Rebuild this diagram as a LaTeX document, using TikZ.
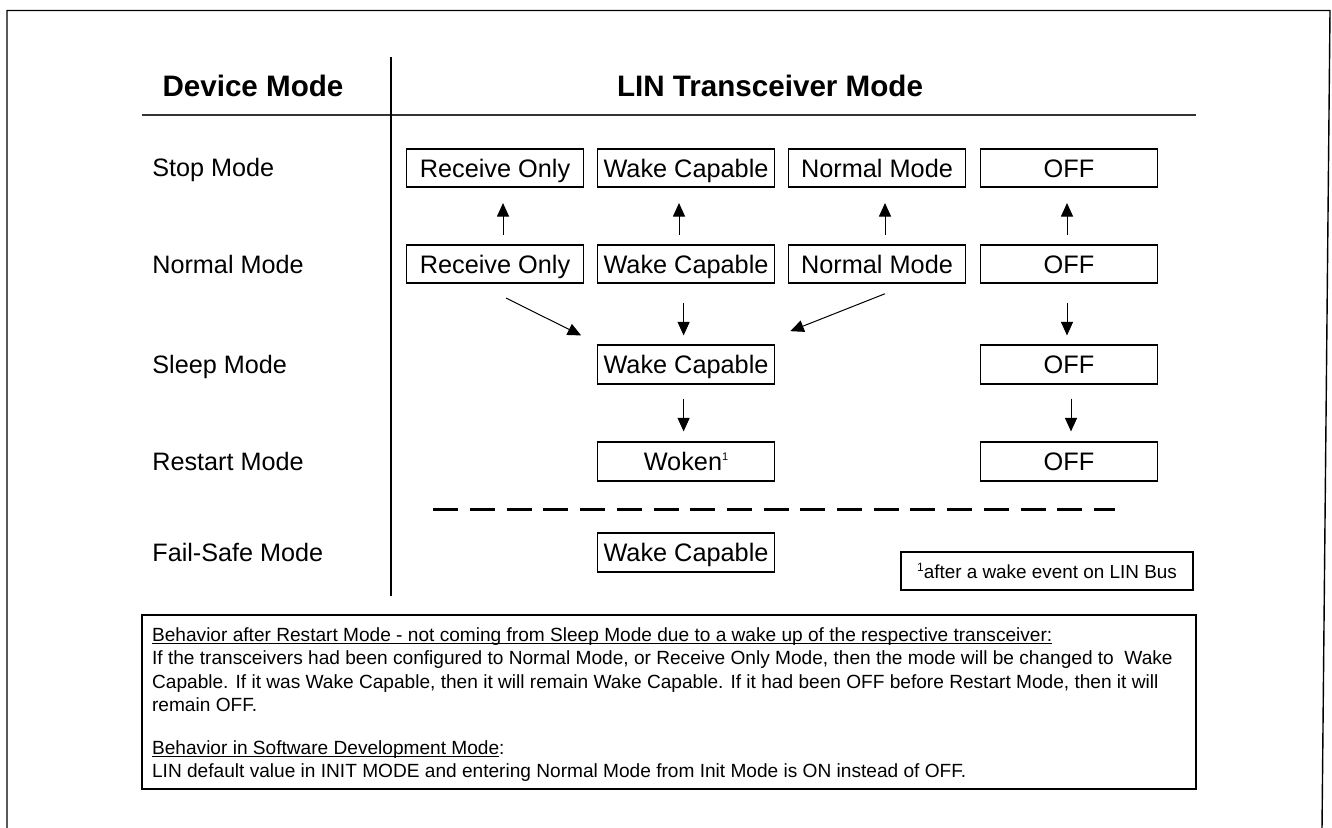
\documentclass[tikz,border=0pt]{standalone}
\usepackage{fontspec}
\setmainfont{Liberation Sans}
\usetikzlibrary{arrows.meta,calc}
\newcommand{\supone}[2]{\raisebox{#1}{\fontsize{#2}{6pt}\selectfont 1}}
\newcommand{\ulin}[1]{\setbox0\hbox{#1}\rlap{\rule[-1.15pt]{\wd0}{0.5pt}}\box0}
\begin{document}
\begin{tikzpicture}[x=0.5pt,y=-0.5pt,
  mbox/.style={draw, line width=0.8pt, inner sep=0pt, minimum width=88.5pt, minimum height=19.25pt,
    text height=9.06pt, text depth=0pt, font=\fontsize{12.65pt}{15pt}\selectfont},
  lbl/.style={anchor=base west, inner sep=0pt, font=\fontsize{12.6pt}{15pt}\selectfont},
  hdr/.style={inner sep=0pt, font=\fontsize{14.8pt}{17pt}\selectfont\bfseries},
  arr/.style={line width=0.5pt, -{Triangle[length=6.75pt,width=6pt]}},
  rule/.style={line width=0.7pt},
]
\useasboundingbox (0,0) rectangle (1332,828);

% outer frame (open at the bottom)
\draw[rule] (7,828) -- (7,10.5) -- (1330,10.5) -- (1322,828);

% table rules
\draw[line width=1pt, black!80] (142,115) -- (1196,115);
\draw[line width=0.65pt] (391,57) -- (391,596);

% headings
\node[hdr] (hdev) at (253,86) {Device Mode};
\node[hdr] (hlin) at (770,86) {LIN Transceiver Mode};

% row labels
\node[lbl] (lstop) at (152,177) {Stop Mode};
\node[lbl] (lnorm) at (152,273.5) {Normal Mode};
\node[lbl] (lsleep) at (152,373.5) {Sleep Mode};
\node[lbl] (lrest) at (152,470.5) {Restart Mode};
\node[lbl] (lfail) at (152,561.5) {Fail-Safe Mode};

% Stop Mode row
\node[mbox] (s1) at (495,168) {Receive Only};
\node[mbox] (s2) at (686,168) {Wake Capable};
\node[mbox] (s3) at (877,168) {Normal Mode};
\node[mbox] (s4) at (1069,168) {OFF};

% Normal Mode row
\node[mbox] (n1) at (495,264) {Receive Only};
\node[mbox] (n2) at (686,264) {Wake Capable};
\node[mbox] (n3) at (877,264) {Normal Mode};
\node[mbox] (n4) at (1069,264) {OFF};

% Sleep Mode row
\node[mbox] (w2) at (686,364.5) {Wake Capable};
\node[mbox] (o3) at (1069,364.5) {OFF};

% Restart Mode row
\node[mbox] (k2) at (686,461.5) {Woken\supone{5.1pt}{5.5pt}};
\node[mbox] (o4) at (1069,461.5) {OFF};

% separator
\draw[line width=1.5pt, dash pattern=on 12.5pt off 5.85pt] (433.3,509.3) -- (1115,509.3);

% Fail-Safe row
\node[mbox] (f2) at (686,552.5) {Wake Capable};

% footnote
\node[draw, line width=0.7pt, inner sep=0pt, minimum width=146pt, minimum height=19pt,
  font=\fontsize{9.45pt}{11pt}\selectfont] (fn) at (1047,571) {\supone{3.6pt}{6pt}after a wake event on LIN Bus};

% arrows Normal -> Stop
\draw[arr, shorten <=4.5pt, shorten >=7.5pt] ([xshift=4pt]n1.north) -- ([xshift=4pt]s1.south);
\draw[arr, shorten <=4.5pt, shorten >=7.5pt] ([xshift=-3.5pt]n2.north) -- ([xshift=-3.5pt]s2.south);
\draw[arr, shorten <=4.5pt, shorten >=7.5pt] ([xshift=4pt]n3.north) -- ([xshift=4pt]s3.south);
\draw[arr, shorten <=4.5pt, shorten >=7.5pt] ([xshift=-1pt]n4.north) -- ([xshift=-1pt]s4.south);

% arrows Normal -> Sleep
\draw[arr] ([shift={(11,14)}]n1.south) -- ([shift={(-15.5,-9)}]w2.north west);
\draw[arr, shorten <=9.35pt, shorten >=4.5pt] ([xshift=-1.2pt]n2.south) -- ([xshift=-1.2pt]w2.north);
\draw[arr] ([shift={(8,9.7)}]n3.south) -- ([shift={(15,-13.3)}]w2.north east);
\draw[arr, shorten <=9.35pt, shorten >=4.5pt] ([xshift=-1pt]n4.south) -- ([xshift=-1pt]o3.north);

% arrows Sleep -> Restart
\draw[arr, shorten <=7pt, shorten >=5pt] ([xshift=-1.2pt]w2.south) -- ([xshift=-1.2pt]k2.north);
\draw[arr, shorten <=7pt, shorten >=5pt] ([xshift=1pt]o3.south) -- ([xshift=1pt]o4.north);

% note box
\node[draw, line width=0.8pt, inner sep=0pt, minimum width=527pt, minimum height=87pt] (notebox) at (669,702) {};
\node[anchor=north west, inner sep=0pt, align=left,
  font=\fontsize{9.55pt}{11.65pt}\selectfont] (note) at (151.7,627.3)
{\ulin{Behavior after Restart Mode - not coming from Sleep Mode due to a wake up of the respective transceiver:}\\
If the transceivers had been configured to Normal Mode, or Receive Only Mode, then the mode will be changed to\ \ Wake\\
Capable. If it was Wake Capable, then it will remain Wake Capable. If it had been OFF before Restart Mode, then it will\\
remain OFF.\\[9.85pt]
\ulin{Behavior in Software Development Mode}:\\
LIN default value in INIT MODE and entering Normal Mode from Init Mode is ON instead of OFF.};
\end{tikzpicture}
\end{document}
